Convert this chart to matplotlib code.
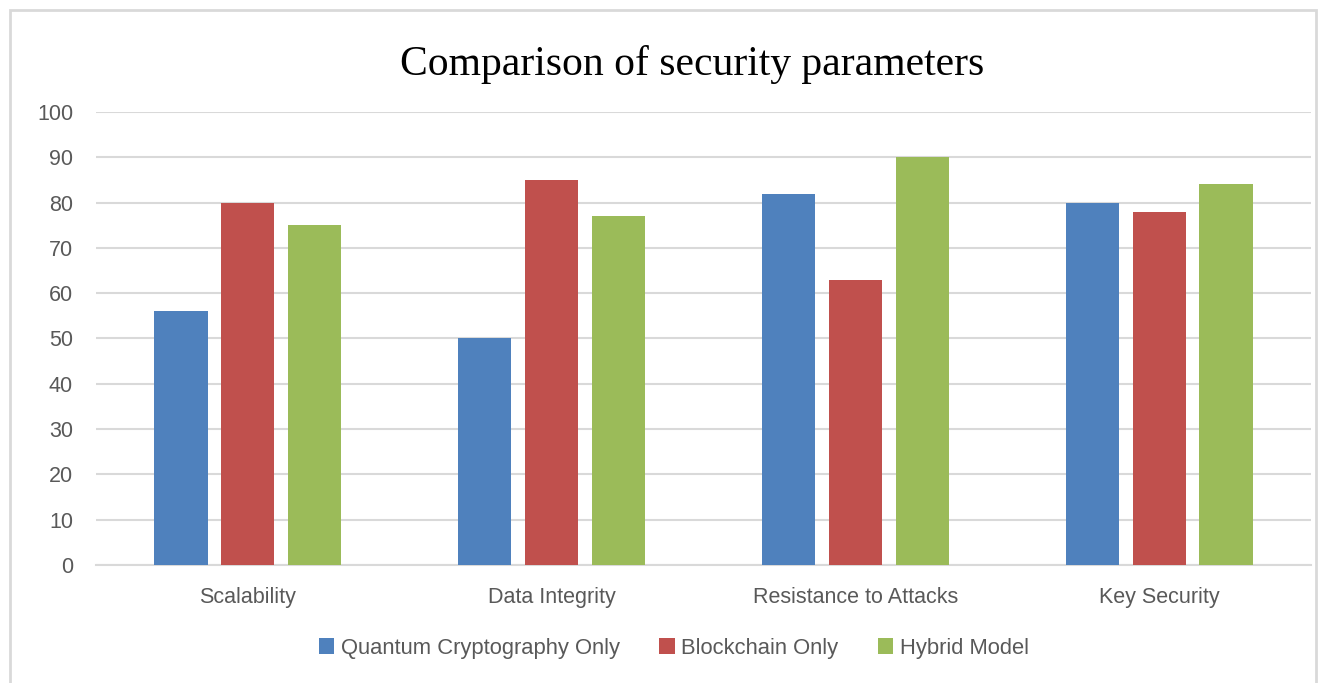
import numpy as np
import matplotlib.pyplot as plt
from matplotlib.patches import Rectangle

categories = ['Scalability', 'Data Integrity', 'Resistance to Attacks', 'Key Security']
series_names = ['Quantum Cryptography Only', 'Blockchain Only', 'Hybrid Model']
quantum = [56, 50, 82, 80]
blockchain = [80, 85, 63, 78]
hybrid = [75, 77, 90, 84]
colors = ['#4f81bd', '#c0504d', '#9bbb59']

text_col = '#595959'
grid_col = '#d9d9d9'

plt.rcParams['font.family'] = ['Liberation Sans', 'DejaVu Sans']

fig = plt.figure(figsize=(13.19, 6.83), dpi=100)
ax = fig.add_axes([0.0728, 0.1728, 0.9212, 0.6632])

x = np.arange(len(categories))
width = 0.175
step = 0.22
for i, (vals, name) in enumerate(zip([quantum, blockchain, hybrid], series_names)):
    ax.bar(x + (i - 1) * step, vals, width, color=colors[i], label=name, zorder=3)

ax.set_xlim(-0.5, len(categories) - 0.5)
ax.set_ylim(0, 100)
ax.set_yticks(range(0, 101, 10))
ax.yaxis.grid(True, color=grid_col, linewidth=1.5, zorder=0)
ax.set_axisbelow(True)
for s in ['top', 'right', 'left']:
    ax.spines[s].set_visible(False)
ax.spines['bottom'].set_color(grid_col)
ax.spines['bottom'].set_linewidth(1.5)
ax.tick_params(axis='y', length=0, pad=16.5, labelsize=15.5, labelcolor=text_col)
ax.tick_params(axis='x', length=0, pad=16, labelsize=15.5, labelcolor=text_col)
ax.set_xticks(x)
ax.set_xticklabels(categories)

fig.text(0.5246, 0.905, 'Comparison of security parameters', ha='center', va='center',
         fontsize=30, family=['Liberation Serif', 'DejaVu Serif'], color='black')

leg = fig.legend(loc='center', bbox_to_anchor=(0.511, 0.051), ncol=3, frameon=False,
                 fontsize=15.8, handlelength=0.7, handleheight=0.7,
                 handletextpad=0.3, columnspacing=1.8)
for t in leg.get_texts():
    t.set_color(text_col)

# light frame around the chart area
fig.patches.append(Rectangle((10 / 1319, -0.02), 1306 / 1319, 1.0 - 10 / 683 + 0.02,
                             transform=fig.transFigure, fill=False,
                             edgecolor=grid_col, linewidth=2))

fig.savefig('out.png', dpi=100)
